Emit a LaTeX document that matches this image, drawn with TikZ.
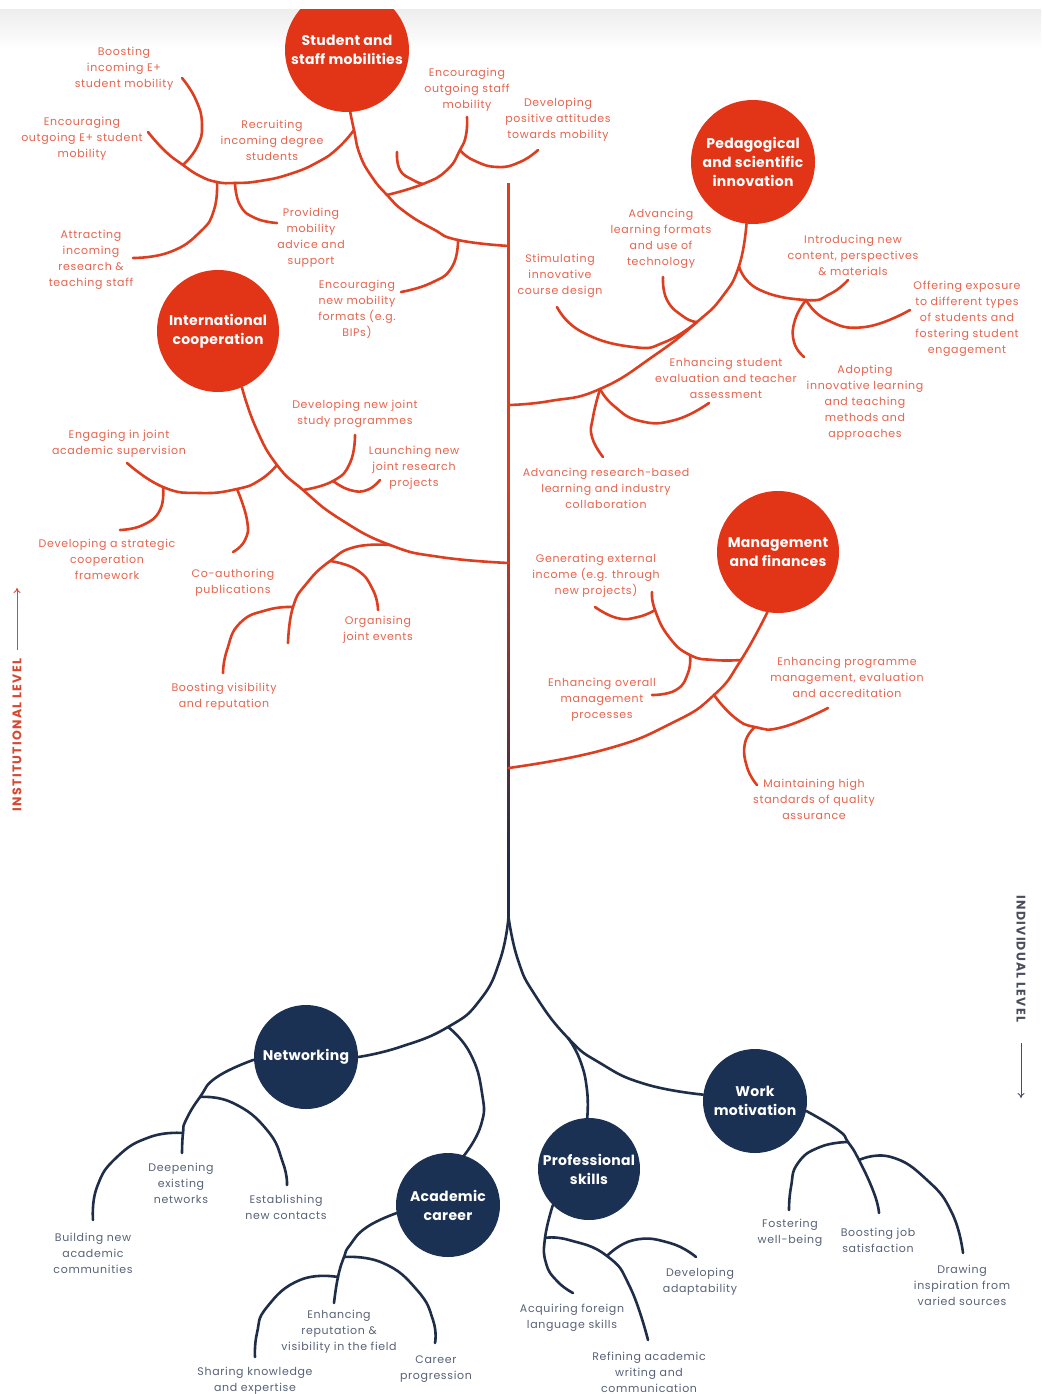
\documentclass[tikz,border=0pt]{standalone}
\usepackage{fontspec}
\setmainfont{Poppins}
\newfontfamily\labfont[LetterSpace=6]{Poppins}
\newfontfamily\circfont[LetterSpace=2]{Poppins}
\newfontfamily\sidefont[LetterSpace=10]{Poppins}
\usetikzlibrary{arrows.meta}
\definecolor{redC}{RGB}{226,52,22}
\definecolor{redL}{RGB}{222,62,32}
\definecolor{redT}{RGB}{230,100,78}
\definecolor{navyC}{RGB}{27,49,84}
\definecolor{navyL}{RGB}{30,45,72}
\definecolor{navyT}{RGB}{88,98,118}
\definecolor{sideR}{RGB}{214,72,50}
\definecolor{sideN}{RGB}{72,78,92}
\begin{document}
\begin{tikzpicture}[x=1pt,y=-1pt,
  br/.style={draw=redL, line width=2.6pt, line cap=round, line join=round},
  nb/.style={draw=navyL, line width=2.6pt, line cap=round, line join=round},
  rcirc/.style={circle, fill=redC, minimum size=#1, inner sep=0pt, text=white, align=center,
     font=\circfont\bfseries\fontsize{14}{19}\selectfont},
  ncirc/.style={circle, fill=navyC, minimum size=#1, inner sep=0pt, text=white, align=center,
     font=\circfont\bfseries\fontsize{14}{19}\selectfont},
  rlab/.style={text=redT, align=center, inner sep=0pt, font=\labfont\fontsize{11}{16}\selectfont},
  nlab/.style={text=navyT, align=center, inner sep=0pt, font=\labfont\fontsize{11}{16}\selectfont},
  side/.style={inner sep=0pt, font=\sidefont\bfseries\fontsize{12.5}{14}\selectfont},
  sm/.style={smooth, tension=0.85},
  trunkseg/.style={line width=3.2pt, line cap=butt}
]
\useasboundingbox (0,0) rectangle (1041,1394);
\fill[white] (0,0) rectangle (1041,1394);
\shade[top color=black!7, bottom color=white] (0,9) rectangle (1041,50);

% ---------- trunk ----------
\coordinate (ttop) at (508.5,183);
\coordinate (tmid) at (508.5,481);
\coordinate (split) at (508.5,917);
\draw[trunkseg, redL] (ttop) -- (tmid);
\foreach \i in {0,...,38} {
  \pgfmathsetmacro{\pc}{100-\i*100/38}
  \draw[trunkseg, redL!\pc!navyL] (508.5,{481+\i*10-0.5}) -- (508.5,{491+\i*10});
}
\draw[trunkseg, navyL] (508.5,870) -- (split);

% ---------- circles ----------
\node[rcirc=124pt] (sm) at (347,50) {Student and\\staff mobilities};
\node[rcirc=124pt] (ped) at (753,162) {Pedagogical\\and scientific\\innovation};
\node[rcirc=122pt] (intl) at (218,331) {International\\cooperation};
\node[rcirc=122pt] (mgmt) at (778,552) {Management\\and finances};
\node[ncirc=104pt] (net) at (306,1057) {Networking};
\node[ncirc=104pt] (acad) at (448,1205) {Academic\\career};
\node[ncirc=102pt] (prof) at (589,1169) {Professional\\skills};
\node[ncirc=104pt] (work) at (755,1101) {Work\\motivation};

% ---------- labels (institutional) ----------
\node[rlab] (l1) at (124,69) {Boosting\\incoming E+\\student mobility};
\node[rlab] (l2) at (82,139) {Encouraging\\outgoing E+ student\\mobility};
\node[rlab] (l3) at (272,140) {Recruiting\\incoming degree\\students};
\node[rlab] (l4) at (467,90) {Encouraging\\outgoing staff\\mobility};
\node[rlab] (l5) at (558,120) {Developing\\positive attitudes\\towards mobility};
\node[rlab] (l6) at (311,238) {Providing\\mobility\\advice and\\support};
\node[rlab] (l7) at (91,260) {Attracting\\incoming\\research \&\\teaching staff};
\node[rlab] (l8) at (357,309) {Encouraging\\new mobility\\formats (e.g.\\BIPs)};
\node[rlab] (l10) at (560,276) {Stimulating\\innovative\\course design};
\node[rlab] (l11) at (661,239) {Advancing\\learning formats\\and use of\\technology};
\node[rlab] (l12) at (853,255) {Introducing new\\content, perspectives\\\& materials};
\node[rlab] (l13) at (967,319) {Offering exposure\\to different types\\of students and\\fostering student\\engagement};
\node[rlab] (l14) at (726,378) {Enhancing student\\evaluation and teacher\\assessment};
\node[rlab] (l15) at (865,403) {Adopting\\innovative learning\\and teaching\\methods and\\approaches};
\node[rlab] (l16) at (606,488) {Advancing research-based\\learning and industry\\collaboration};
\node[rlab] (l17) at (355,414) {Developing new joint\\study programmes};
\node[rlab] (l18) at (119,444) {Engaging in joint\\academic supervision};
\node[rlab] (l19) at (414,468) {Launching new\\joint research\\projects};
\node[rlab] (l20) at (107,559) {Developing a strategic\\cooperation\\framework};
\node[rlab] (l21) at (233,583) {Co-authoring\\publications};
\node[rlab] (l22) at (378,630) {Organising\\joint events};
\node[rlab] (l23) at (224,697) {Boosting visibility\\and reputation};
\node[rlab] (l24) at (596,576) {Generating external\\income (e.g. through\\new projects)};
\node[rlab] (l25) at (602,700) {Enhancing overall\\management\\processes};
\node[rlab] (l26) at (847,677) {Enhancing programme\\management, evaluation\\and accreditation};
\node[rlab] (l27) at (814,799) {Maintaining high\\standards of quality\\assurance};

% ---------- labels (individual) ----------
\node[nlab] (l28) at (181,1183) {Deepening\\existing\\networks};
\node[nlab] (l29) at (286,1207) {Establishing\\new contacts};
\node[nlab] (l30) at (93,1253) {Building new\\academic\\communities};
\node[nlab] (l31) at (339,1332) {Enhancing\\reputation \&\\visibility in the field};
\node[nlab] (l32) at (436,1369) {Career\\progression};
\node[nlab] (l33) at (255,1381) {Sharing knowledge\\and expertise};
\node[nlab] (l34) at (572,1318) {Acquiring foreign\\language skills};
\node[nlab] (l35) at (700,1282) {Developing\\adaptability};
\node[nlab] (l36) at (649,1372) {Refining academic\\writing and\\communication};
\node[nlab] (l37) at (790,1233) {Fostering\\well-being};
\node[nlab] (l38) at (878,1240) {Boosting job\\satisfaction};
\node[nlab] (l39) at (962,1285) {Drawing\\inspiration from\\varied sources};

% ---------- Student and staff mobilities ----------
\coordinate (smA) at (354,130);
\coordinate (smS) at (387,195);
\coordinate (smN) at (458,240);
\coordinate (t1) at (508.5,246);
\coordinate (smP) at (235,183);
\coordinate (smT) at (217,182);
\coordinate (smB) at (183,165);
\coordinate (smH) at (423,184);
\coordinate (smD) at (460,150);
\coordinate (e1) at (182,78);
\coordinate (e2) at (148,132);
\coordinate (e4) at (467,117);
\coordinate (e4b) at (397,152);
\coordinate (e5) at (538,150);
\coordinate (e6) at (277,223);
\coordinate (e7) at (133,258);
\coordinate (e8) at (401,292);
\draw[br] plot[sm] coordinates {(sm.-87) (smA) (360,155) (372,177) (smS) (405,212) (433,229) (smN) (t1)};
\draw[br] plot[sm] coordinates {(smA) (338,148) (318,162) (290,174) (260,181) (smP) (smT) (200,176) (smB) (165,151) (e2)};
\draw[br] plot[sm] coordinates {(smB) (197,147) (202,125) (196,100) (e1)};
\draw[br] plot[sm] coordinates {(smT) (214,210) (200,232) (170,252) (e7)};
\draw[br] plot[sm] coordinates {(smP) (240,205) (255,218) (e6)};
\draw[br] plot[sm] coordinates {(smS) (smH) (447,170) (smD) (466,135) (e4)};
\draw[br] plot[sm] coordinates {(e4b) (400,170) (413,180) (smH)};
\draw[br] plot[sm] coordinates {(smD) (473,160) (497,167) (520,162) (e5)};
\draw[br] plot[sm] coordinates {(smN) (452,267) (431,283) (e8)};

% ---------- Pedagogical ----------
\coordinate (pI) at (739,266);
\coordinate (pA) at (697,322);
\coordinate (pE) at (600,389);
\coordinate (t2) at (508.5,405);
\coordinate (pJ) at (806,300);
\coordinate (e10) at (557,307);
\coordinate (e11) at (663,277);
\coordinate (e12) at (848,280);
\coordinate (e13) at (910,310);
\coordinate (e14) at (709,403);
\coordinate (e15) at (804,357);
\coordinate (e16) at (603,457);
\draw[br] plot[sm] coordinates {(ped.-96) (pI) (722,297) (pA) (655,355) (pE) (550,401) (t2)};
\draw[br] plot[sm] coordinates {(pI) (758,289) (pJ) (830,294) (e12)};
\draw[br] plot[sm] coordinates {(pJ) (795,320) (794,342) (e15)};
\draw[br] plot[sm] coordinates {(pJ) (827,320) (865,327) (e13)};
\draw[br] plot[sm] coordinates {(pA) (684,317) (667,300) (e11)};
\draw[br] plot[sm] coordinates {(pA) (665,342) (633,347) (582,332) (e10)};
\draw[br] plot[sm] coordinates {(pE) (614,406) (640,421) (675,420) (e14)};
\draw[br] plot[sm] coordinates {(pE) (593,417) (592,437) (e16)};

% ---------- International cooperation ----------
\coordinate (iL) at (277,465);
\coordinate (iS) at (303,490);
\coordinate (iO) at (390,545);
\coordinate (t3) at (508.5,563);
\coordinate (iC) at (237,489);
\coordinate (iD) at (163,487);
\coordinate (iR) at (333,481);
\coordinate (iG) at (330,561);
\coordinate (iV) at (293,607);
\coordinate (iX) at (288,643);
\coordinate (e17) at (355,435);
\coordinate (e18) at (127,463);
\coordinate (e19) at (380,480);
\coordinate (e20) at (120,530);
\coordinate (e21) at (233,552);
\coordinate (e22) at (378,610);
\coordinate (e23) at (223,673);
\draw[br] plot[sm] coordinates {(intl.-67) (256,428) (iL) (iS) (340,519) (iO) (440,557) (t3)};
\draw[br] plot[sm] coordinates {(iL) (260,480) (iC) (200,493) (iD) (e18)};
\draw[br] plot[sm] coordinates {(iD) (160,510) (143,525) (e20)};
\draw[br] plot[sm] coordinates {(iC) (247,520) (245,540) (e21)};
\draw[br] plot[sm] coordinates {(iS) (iR) (350,463) (e17)};
\draw[br] plot[sm] coordinates {(iR) (350,490) (367,490) (e19)};
\draw[br] plot[sm] coordinates {(iO) (355,547) (iG) (307,583) (iV) (iX)};
\draw[br] plot[sm] coordinates {(iG) (357,570) (373,590) (e22)};
\draw[br] plot[sm] coordinates {(iV) (267,610) (240,623) (227,650) (e23)};

% ---------- Management and finances ----------
\coordinate (mG) at (741,660);
\coordinate (mP) at (714,695);
\coordinate (t4) at (508.5,768);
\coordinate (mO) at (690,655);
\coordinate (mS) at (655,610);
\coordinate (mM) at (755,727);
\coordinate (e24) at (652,592);
\coordinate (e24b) at (595,607);
\coordinate (e25) at (652,695);
\coordinate (e26) at (828,708);
\coordinate (e27) at (757,785);
\draw[br] plot[sm] coordinates {(mgmt.-100) (mG) (mP) (672,723) (603,750) (t4)};
\draw[br] plot[sm] coordinates {(mG) (714,660) (mO) (669,637) (mS) (e24)};
\draw[br] plot[sm] coordinates {(mS) (638,617) (617,618) (e24b)};
\draw[br] plot[sm] coordinates {(mO) (688,673) (676,690) (e25)};
\draw[br] plot[sm] coordinates {(mP) (734,717) (mM) (783,727) (e26)};
\draw[br] plot[sm] coordinates {(mM) (745,743) (747,767) (e27)};

% ---------- individual level ----------
\coordinate (nA) at (448,1027);
\coordinate (nP) at (568,1038);
\draw[nb] plot[sm] coordinates {(split) (500,960) (480,1000) (nA) (400,1047) (net.east)};
\draw[nb] plot[sm] coordinates {(nA) (470,1053) (482,1093) (481,1125) (acad.72)};
\draw[nb] plot[sm] coordinates {(split) (518,960) (535,995) (nP) (600,1063) (645,1084) (work.173)};
\draw[nb] plot[sm] coordinates {(nP) (580,1060) (587,1090) (prof.92)};

\coordinate (nE) at (200,1097);
\coordinate (nB) at (183,1133);
\coordinate (e28) at (182,1153);
\coordinate (e29) at (287,1185);
\coordinate (e30) at (93,1220);
\draw[nb] plot[sm] coordinates {(net.183) (217,1077) (nE) (186,1120) (nB) (e28)};
\draw[nb] plot[sm] coordinates {(nE) (233,1103) (267,1130) (283,1163) (e29)};
\draw[nb] plot[sm] coordinates {(nB) (150,1137) (117,1157) (97,1187) (e30)};

\coordinate (aC) at (344,1257);
\coordinate (aS) at (338,1277);
\coordinate (e31) at (334,1303);
\coordinate (e32) at (435,1343);
\coordinate (e33) at (255,1357);
\draw[nb] plot[sm] coordinates {(acad.189) (367,1227) (350,1245) (aC) (aS) (e31)};
\draw[nb] plot[sm] coordinates {(aC) (383,1263) (417,1290) (433,1320) (e32)};
\draw[nb] plot[sm] coordinates {(aS) (300,1280) (267,1307) (257,1333) (e33)};

\coordinate (pR) at (545,1238);
\coordinate (pD) at (607,1256);
\coordinate (e34) at (573,1293);
\coordinate (e35) at (696,1257);
\coordinate (e36) at (648,1340);
\draw[nb] plot[sm] coordinates {(prof.225) (pR) (546,1263) (557,1281) (e34)};
\draw[nb] plot[sm] coordinates {(pR) (569,1240) (pD) (630,1287) (e36)};
\draw[nb] plot[sm] coordinates {(pD) (634,1240) (670,1243) (e35)};

\coordinate (wF) at (848,1142);
\coordinate (wD) at (859,1160);
\coordinate (e37) at (789,1210);
\coordinate (e38) at (879,1213);
\coordinate (e39) at (963,1253);
\draw[nb] plot[sm] coordinates {(work.-11) (838,1130) (wF) (wD) (874,1193) (e38)};
\draw[nb] plot[sm] coordinates {(wF) (820,1147) (798,1163) (791,1187) (e37)};
\draw[nb] plot[sm] coordinates {(wD) (891,1157) (927,1180) (952,1213) (e39)};

% ---------- side labels ----------
\node[side, text=sideR, rotate=90] (inst) at (17,735) {INSTITUTIONAL LEVEL};
\coordinate (instA) at (17,650);
\coordinate (instB) at (17,588);
\draw[sideR, line width=0.9pt, -{To[length=5pt,width=7pt]}] (instA) -- (instB);
\node[side, text=sideN, rotate=-90] (indiv) at (1021,959) {INDIVIDUAL LEVEL};
\coordinate (indA) at (1021,1043);
\coordinate (indB) at (1021,1098);
\draw[sideN, line width=0.9pt, -{To[length=5pt,width=7pt]}] (indA) -- (indB);

% top white strip clipping the first circle
\fill[white] (0,0) rectangle (1041,9);
\end{tikzpicture}
\end{document}
